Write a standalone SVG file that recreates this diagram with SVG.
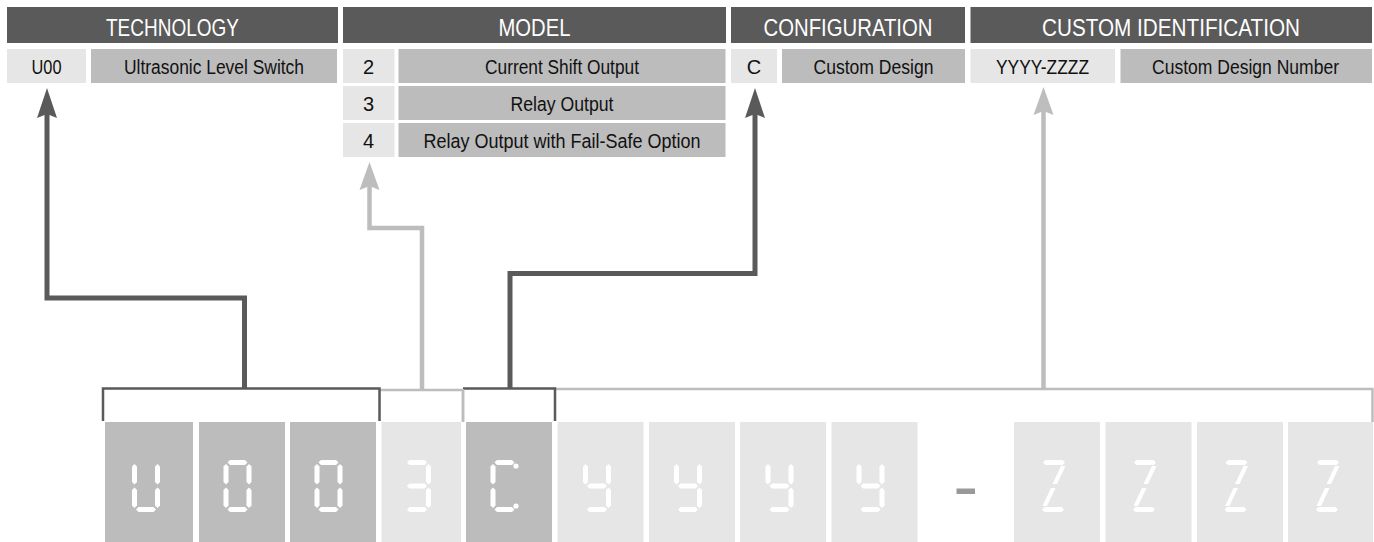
<svg xmlns="http://www.w3.org/2000/svg" xmlns:xlink="http://www.w3.org/1999/xlink" width="1374" height="542" viewBox="0 0 1374 542">
<style>
.hd{fill:#5a5a5a}
.cd{fill:#e6e6e6}
.ds{fill:#bcbcbc}
.ht{font-family:"Liberation Sans",Arial,sans-serif;font-size:24px;fill:#ffffff;text-anchor:middle}
.rt{font-family:"Liberation Sans",Arial,sans-serif;font-size:20px;fill:#111111;text-anchor:middle}
.bxd{fill:#bcbcbc}
.bxl{fill:#e6e6e6}
.seg{fill:#ffffff}
.cdk{fill:none;stroke:#5a5a5a;stroke-width:5;stroke-linejoin:miter}
.clt{fill:none;stroke:#bdbdbd;stroke-width:4.5;stroke-linejoin:miter}
.bdk{fill:none;stroke:#5a5a5a;stroke-width:2.5}
.blt{fill:none;stroke:#bdbdbd;stroke-width:2.5}
</style>
<defs>
<marker id="adk" markerUnits="userSpaceOnUse" viewBox="-20 -12 40 24" markerWidth="40" markerHeight="24" refX="0" refY="0" orient="auto" overflow="visible">
<path d="M15,0 L-15,-10 L-11,0 L-15,10 Z" fill="#5a5a5a"/>
</marker>
<marker id="alt" markerUnits="userSpaceOnUse" viewBox="-20 -12 40 24" markerWidth="40" markerHeight="24" refX="0" refY="0" orient="auto" overflow="visible">
<path d="M15,0 L-13,-10 L-9,0 L-13,10 Z" fill="#bdbdbd"/>
</marker>
<polygon id="sa" points="4,2.5 6.5,0 21.5,0 24,2.5 21.5,5 6.5,5"/>
<polygon id="sb" points="25.5,4 28,6.5 28,22 25.5,24.5 23,22 23,6.5"/>
<polygon id="sc" points="25.5,27.5 28,30 28,45.5 25.5,48 23,45.5 23,30"/>
<polygon id="sd" points="4,49.5 6.5,47 21.5,47 24,49.5 21.5,52 6.5,52"/>
<polygon id="se" points="2.5,27.5 5,30 5,45.5 2.5,48 0,45.5 0,30"/>
<polygon id="sf" points="2.5,4 5,6.5 5,22 2.5,24.5 0,22 0,6.5"/>
<polygon id="sg" points="4,26 6.5,23.5 21.5,23.5 24,26 21.5,28.5 6.5,28.5"/>
<g id="dU" class="seg"><use href="#sb"/><use href="#sc"/><use href="#sd"/><use href="#se"/><use href="#sf"/></g>
<g id="d0" class="seg"><use href="#sa"/><use href="#sb"/><use href="#sc"/><use href="#sd"/><use href="#se"/><use href="#sf"/></g>
<g id="d3" class="seg"><use href="#sa"/><use href="#sb"/><use href="#sc"/><use href="#sd"/><use href="#sg"/></g>
<g id="dC" class="seg"><use href="#sa"/><use href="#sd"/><use href="#se"/><use href="#sf"/><circle cx="25.5" cy="6" r="2.6"/><circle cx="25.5" cy="46" r="2.6"/></g>
<g id="dY" class="seg"><use href="#sb"/><use href="#sc"/><use href="#sd"/><use href="#sf"/><use href="#sg"/></g>
<g id="dZ" class="seg"><polygon points="3,2.5 5.5,0 22.5,0 25,2.5 22.5,5 5.5,5"/><polygon points="21,6 25.5,6 17,24 12.5,24"/><polygon points="11,28 15.5,28 7,46 2.5,46"/><polygon points="2,49.5 4.5,47 21.5,47 24,49.5 21.5,52 4.5,52"/></g>
</defs>
<rect x="0" y="0" width="1374" height="542" fill="#ffffff"/>

<g id="technology">
<rect class="hd" x="7" y="7" width="331" height="36"/>
<text class="ht" x="172.5" y="36" textLength="133" lengthAdjust="spacingAndGlyphs">TECHNOLOGY</text>
<rect class="cd" x="7" y="49" width="79" height="34"/>
<text class="rt" x="46.5" y="74" textLength="30" lengthAdjust="spacingAndGlyphs">U00</text>
<rect class="ds" x="91" y="49" width="246" height="34"/>
<text class="rt" x="214" y="74" textLength="180" lengthAdjust="spacingAndGlyphs">Ultrasonic Level Switch</text>
</g>

<g id="model">
<rect class="hd" x="343" y="7" width="383" height="36"/>
<text class="ht" x="534.5" y="36" textLength="72" lengthAdjust="spacingAndGlyphs">MODEL</text>
<rect class="cd" x="343" y="49" width="51.5" height="34"/>
<text class="rt" x="368.5" y="74">2</text>
<rect class="ds" x="398.5" y="49" width="327" height="34"/>
<text class="rt" x="562" y="74" textLength="154" lengthAdjust="spacingAndGlyphs">Current Shift Output</text>
<rect class="cd" x="343" y="86" width="51.5" height="34"/>
<text class="rt" x="368.5" y="111">3</text>
<rect class="ds" x="398.5" y="86" width="327" height="34"/>
<text class="rt" x="562" y="111" textLength="103" lengthAdjust="spacingAndGlyphs">Relay Output</text>
<rect class="cd" x="343" y="123" width="51.5" height="34"/>
<text class="rt" x="368.5" y="148">4</text>
<rect class="ds" x="398.5" y="123" width="327" height="34"/>
<text class="rt" x="562" y="148" textLength="277" lengthAdjust="spacingAndGlyphs">Relay Output with Fail-Safe Option</text>
</g>

<g id="configuration">
<rect class="hd" x="731" y="7" width="234" height="36"/>
<text class="ht" x="848" y="36" textLength="169" lengthAdjust="spacingAndGlyphs">CONFIGURATION</text>
<rect class="cd" x="731" y="49" width="46" height="34"/>
<text class="rt" x="754" y="74">C</text>
<rect class="ds" x="782" y="49" width="183" height="34"/>
<text class="rt" x="873.5" y="74" textLength="120" lengthAdjust="spacingAndGlyphs">Custom Design</text>
</g>

<g id="custom-identification">
<rect class="hd" x="970.5" y="7" width="401.5" height="36"/>
<text class="ht" x="1171" y="36" textLength="258" lengthAdjust="spacingAndGlyphs">CUSTOM IDENTIFICATION</text>
<rect class="cd" x="970.5" y="49" width="144.5" height="34"/>
<text class="rt" x="1042.5" y="74" textLength="93" lengthAdjust="spacingAndGlyphs">YYYY-ZZZZ</text>
<rect class="ds" x="1120.5" y="49" width="251.5" height="34"/>
<text class="rt" x="1245.5" y="74" textLength="187" lengthAdjust="spacingAndGlyphs">Custom Design Number</text>
</g>

<g id="connectors">
<path class="cdk" d="M244.5,388 V298 H47 V103" marker-end="url(#adk)"/>
<path class="clt" d="M422,390 V228 H369.5 V177" marker-end="url(#alt)"/>
<path class="cdk" d="M510,388 V273.5 H755 V103" marker-end="url(#adk)"/>
<path class="clt" d="M1043.5,389 V102" marker-end="url(#alt)"/>
<polyline class="blt" points="380,390 463,390 463,422"/>
<polyline class="blt" points="555,389 1372.5,389 1372.5,422"/>
<polyline class="bdk" points="103,421 103,388.5 379.5,388.5 379.5,421"/>
<polyline class="bdk" points="463,388.5 555,388.5 555,421"/>
<line class="blt" x1="463" y1="389" x2="463" y2="422"/>
</g>

<g id="display">
<rect class="bxd" x="105" y="422" width="88" height="120"/>
<use href="#dU" x="132" y="460"/>
<rect class="bxd" x="199" y="422" width="86" height="120"/>
<use href="#d0" x="223.5" y="460"/>
<rect class="bxd" x="290" y="422" width="86" height="120"/>
<use href="#d0" x="314.5" y="460"/>
<rect class="bxl" x="381.5" y="422" width="79.5" height="120"/>
<use href="#d3" x="403" y="460"/>
<rect class="bxd" x="466" y="422" width="86" height="120"/>
<use href="#dC" x="490.5" y="460"/>
<rect class="bxl" x="557.5" y="422" width="86" height="120"/>
<use href="#dY" x="583" y="460"/>
<rect class="bxl" x="649" y="422" width="86" height="120"/>
<use href="#dY" x="674" y="460"/>
<rect class="bxl" x="740" y="422" width="86" height="120"/>
<use href="#dY" x="765.5" y="460"/>
<rect class="bxl" x="831.5" y="422" width="86" height="120"/>
<use href="#dY" x="856.5" y="460"/>
<rect x="956.5" y="488.5" width="18.5" height="5.5" fill="#999999"/>
<rect class="bxl" x="1014" y="422" width="86" height="120"/>
<use href="#dZ" x="1040" y="460"/>
<rect class="bxl" x="1105.5" y="422" width="86" height="120"/>
<use href="#dZ" x="1131" y="460"/>
<rect class="bxl" x="1197" y="422" width="86" height="120"/>
<use href="#dZ" x="1222.5" y="460"/>
<rect class="bxl" x="1288" y="422" width="85" height="120"/>
<use href="#dZ" x="1314" y="460"/>
</g>
</svg>
